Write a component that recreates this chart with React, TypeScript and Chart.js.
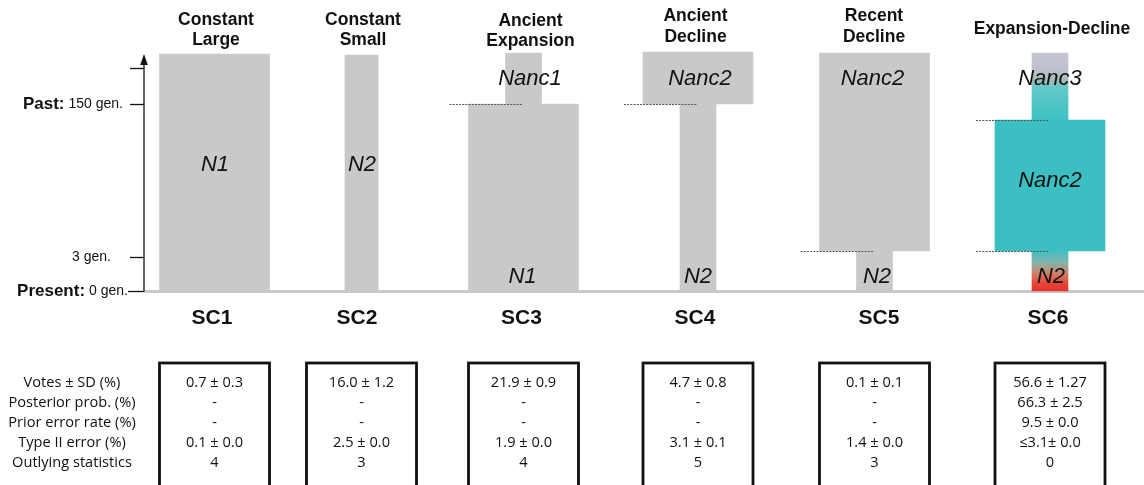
import React, { useEffect, useRef } from "react";
import { Chart, registerables } from "chart.js";
Chart.register(...registerables);

// ---------- data ----------
const scenarioNames = ["SC1", "SC2", "SC3", "SC4", "SC5", "SC6"];
const scenarioTitles = [
  ["Constant", "Large"],
  ["Constant", "Small"],
  ["Ancient", "Expansion"],
  ["Ancient", "Decline"],
  ["Recent", "Decline"],
  ["Expansion-Decline"],
];
// scenario centre positions on the (hidden) layout x axis
const scenarioX = [214.5, 361.5, 523.5, 698, 874.5, 1050];

// schematic time axis (0 = present)
const timeTicks = [0, 34, 187, 223];
const timeTickLabels = [["Present:", "0 gen."], ["", "3 gen."], ["Past:", "150 gen."], ["", ""]];
const timeTop = 237;

// population-size epochs: [scenario, timeFrom, timeTo, fill]
const wideEpochs = [
  [0, 0, 237, "gray"],
  [2, 0, 187, "gray"],
  [3, 187, 239, "gray"],
  [4, 40, 238, "gray"],
  [5, 40, 171, "teal"],
];
const narrowEpochs = [
  [2, 187, 238, "gray"],
  [3, 0, 187, "gray"],
  [4, 0, 40, "gray"],
  [5, 0, 40, "gradRed"],
  [5, 171, 238, "gradLav"],
];
const smallEpochs = [[1, 0, 236, "gray"]];
const sizeWide = 110;
const sizeNarrow = 36;
const sizeSmall = 33;

// size labels: [scenario, time, text, dx]
const sizeLabels = [
  [0, 126, "N1", 0.5],
  [1, 126, "N2", 0.5],
  [2, 212, "Nanc1", 6.5],
  [2, 14, "N1", -1],
  [3, 212, "Nanc2", 2],
  [3, 14, "N2", 0],
  [4, 212, "Nanc2", -2],
  [4, 14, "N2", 2.5],
  [5, 212, "Nanc3", 0],
  [5, 110, "Nanc2", 0],
  [5, 14, "N2", 1],
];
// dashed change-time markers: [scenario, time]
const changeMarks = [
  [2, 187],
  [3, 187],
  [4, 40],
  [5, 171],
  [5, 40],
];

// statistics table
const rowLabels = ["Votes ± SD (%)", "Posterior prob. (%)", "Prior error rate (%)", "Type II error (%)", "Outlying statistics"];
const votes = ["0.7 ± 0.3", "16.0 ± 1.2", "21.9 ± 0.9", "4.7 ± 0.8", "0.1 ± 0.1", "56.6 ± 1.27"];
const posterior = ["-", "-", "-", "-", "-", "66.3 ± 2.5"];
const priorError = ["-", "-", "-", "-", "-", "9.5 ± 0.0"];
const typeII = ["0.1 ± 0.0", "2.5 ± 0.0", "1.9 ± 0.0", "3.1 ± 0.1", "1.4 ± 0.0", "≤3.1± 0.0"];
const outlying = ["4", "3", "4", "5", "3", "0"];

// ---------- styles ----------
const GRAY = "#c8c9c8";
const TEAL = "#3cbfc2";
const SANS = "'Liberation Sans', Arial, Helvetica, sans-serif";
const TABLE_FONT = "'Open Sans', sans-serif";

function fillFor(kind: string, ctx: any, ep: any[]) {
  if (kind === "gray") return GRAY;
  if (kind === "teal") return TEAL;
  const chart = ctx.chart;
  const y = chart.scales.y;
  if (!y) return TEAL;
  const top = y.getPixelForValue(ep[2]);
  const bot = y.getPixelForValue(ep[1]);
  const g = chart.ctx.createLinearGradient(0, top, 0, bot);
  if (kind === "gradLav") {
    g.addColorStop(0, "#c4c5d3");
    g.addColorStop(0.25, "#bfc1cd");
    g.addColorStop(0.38, "#adb9bc");
    g.addColorStop(0.52, "#62c8c8");
    g.addColorStop(1, "#3dc0c2");
  } else {
    g.addColorStop(0, "#40c0c2");
    g.addColorStop(0.3, "#86b3aa");
    g.addColorStop(0.55, "#cc8468");
    g.addColorStop(0.8, "#e5473a");
    g.addColorStop(1, "#e8302a");
  }
  return g;
}

function makeDataset(epochs: any[], thickness: number) {
  return {
    data: epochs.map((e) => ({ x: scenarioX[e[0]], y: [e[1], e[2]] })),
    backgroundColor: (ctx: any) => {
      const ep = epochs[ctx.dataIndex];
      if (!ep) return GRAY;
      return fillFor(ep[3], ctx, ep);
    },
    barThickness: thickness,
    borderWidth: 0,
    grouped: false,
  };
}

const decorPlugin = {
  id: "decor",
  beforeDatasetsDraw(chart: any) {
    const { ctx, scales } = chart;
    const x = scales.x;
    const y = scales.y;
    const axisX = x.getPixelForValue(144);
    const y0 = y.getPixelForValue(0);
    ctx.save();
    ctx.fillStyle = GRAY;
    ctx.fillRect(axisX, y0 - 1, x.getPixelForValue(1144) - axisX, 3);
    ctx.restore();
  },
  afterDatasetsDraw(chart: any) {
    const { ctx, scales } = chart;
    const x = scales.x;
    const y = scales.y;
    ctx.save();

    // time axis
    const axisX = x.getPixelForValue(144);
    const yBase = y.getPixelForValue(0);
    const yTop = y.getPixelForValue(timeTop);
    ctx.strokeStyle = "#111";
    ctx.lineWidth = 1.3;
    ctx.beginPath();
    ctx.moveTo(axisX, yBase + 0.5);
    ctx.lineTo(axisX, yTop + 8);
    ctx.stroke();
    ctx.fillStyle = "#111";
    ctx.beginPath();
    ctx.moveTo(axisX, yTop);
    ctx.lineTo(axisX - 3.8, yTop + 11);
    ctx.lineTo(axisX + 3.8, yTop + 11);
    ctx.closePath();
    ctx.fill();
    timeTicks.forEach((t, i) => {
      const py = Math.round(y.getPixelForValue(t)) + 0.5;
      ctx.beginPath();
      ctx.moveTo(axisX - (t === 0 ? 16 : 14), py);
      ctx.lineTo(axisX, py);
      ctx.stroke();
      const [bold, reg] = timeTickLabels[i];
      if (!reg) return;
      ctx.textBaseline = "middle";
      ctx.textAlign = "right";
      const right = t === 0 ? axisX - 16 : t === 34 ? axisX - 33 : axisX - 21;
      ctx.font = `14px ${SANS}`;
      ctx.fillText(reg, right, py);
      const w = ctx.measureText(reg).width;
      if (bold) {
        ctx.font = `bold 17px ${SANS}`;
        ctx.fillText(bold, right - w - 4, py);
      }
    });

    // dashed change markers
    ctx.strokeStyle = "#555";
    ctx.lineWidth = 1;
    ctx.setLineDash([2, 1.2]);
    changeMarks.forEach(([s, t]) => {
      const cx = scenarioX[s];
      const py = Math.round(y.getPixelForValue(t)) + 0.5;
      ctx.beginPath();
      ctx.moveTo(x.getPixelForValue(cx - 74), py);
      ctx.lineTo(x.getPixelForValue(cx - 1), py);
      ctx.stroke();
    });
    ctx.setLineDash([]);

    // size labels
    ctx.fillStyle = "#111";
    ctx.textAlign = "center";
    ctx.textBaseline = "middle";
    ctx.font = `italic 22px ${SANS}`;
    sizeLabels.forEach(([s, t, text, dx]: any) => {
      ctx.fillText(text, x.getPixelForValue(scenarioX[s] + dx), y.getPixelForValue(t));
    });

    // titles
    ctx.font = `bold 17.5px ${SANS}`;
    const titleDx = [1.5, 1.5, 7, -2.5, -0.5, 2];
    scenarioTitles.forEach((lines, i) => {
      const cx = x.getPixelForValue(scenarioX[i] + titleDx[i]);
      let ys: number[];
      if (lines.length === 1) ys = [29];
      else if (i === 2) ys = [21, 41.5];
      else if (i === 3 || i === 4) ys = [16.5, 37.5];
      else ys = [20, 40.5];
      lines.forEach((l, k) => ctx.fillText(l, cx, ys[k]));
    });

    // scenario names
    ctx.font = `bold 21px ${SANS}`;
    const nameDx = [-2.5, -4.5, -2, -3, 4.5, -2];
    scenarioNames.forEach((n, i) => {
      ctx.fillText(n, x.getPixelForValue(scenarioX[i] + nameDx[i]), 318);
    });

    // table
    const rowY = [383, 403, 423, 443, 463];
    ctx.font = `14.6px ${TABLE_FONT}`;
    rowLabels.forEach((l, r) => ctx.fillText(l, 72, rowY[r]));
    const cols = [votes, posterior, priorError, typeII, outlying];
    ctx.strokeStyle = "#111";
    ctx.lineWidth = 2.8;
    scenarioX.forEach((sx, i) => {
      const cx = x.getPixelForValue(sx);
      ctx.strokeRect(cx - 55, 363, 110, 140);
      cols.forEach((col, r) => ctx.fillText(col[i], cx, rowY[r]));
    });

    ctx.restore();
  },
};

export default function App() {
  const ref = useRef<HTMLCanvasElement | null>(null);
  useEffect(() => {
    if (!ref.current) return;
    const chart = new Chart(ref.current, {
      type: "bar",
      data: {
        datasets: [
          makeDataset(wideEpochs, sizeWide),
          makeDataset(narrowEpochs, sizeNarrow),
          makeDataset(smallEpochs, sizeSmall),
        ] as any,
      },
      options: {
        animation: false,
        responsive: false,
        devicePixelRatio: 1,
        layout: { padding: 0 },
        plugins: { legend: { display: false }, tooltip: { enabled: false }, title: { display: false } },
        scales: {
          x: { type: "linear", min: 0, max: 1144, display: false, offset: false },
          y: { type: "linear", min: -194, max: 291, display: false },
        },
      } as any,
      plugins: [decorPlugin],
    });
    return () => chart.destroy();
  }, []);
  return (
    <div style={{ position: "fixed", left: 0, top: 0, width: 1144, height: 485, background: "#fff" }}>
      <canvas ref={ref} width={1144} height={485} style={{ display: "block" }} />
    </div>
  );
}
